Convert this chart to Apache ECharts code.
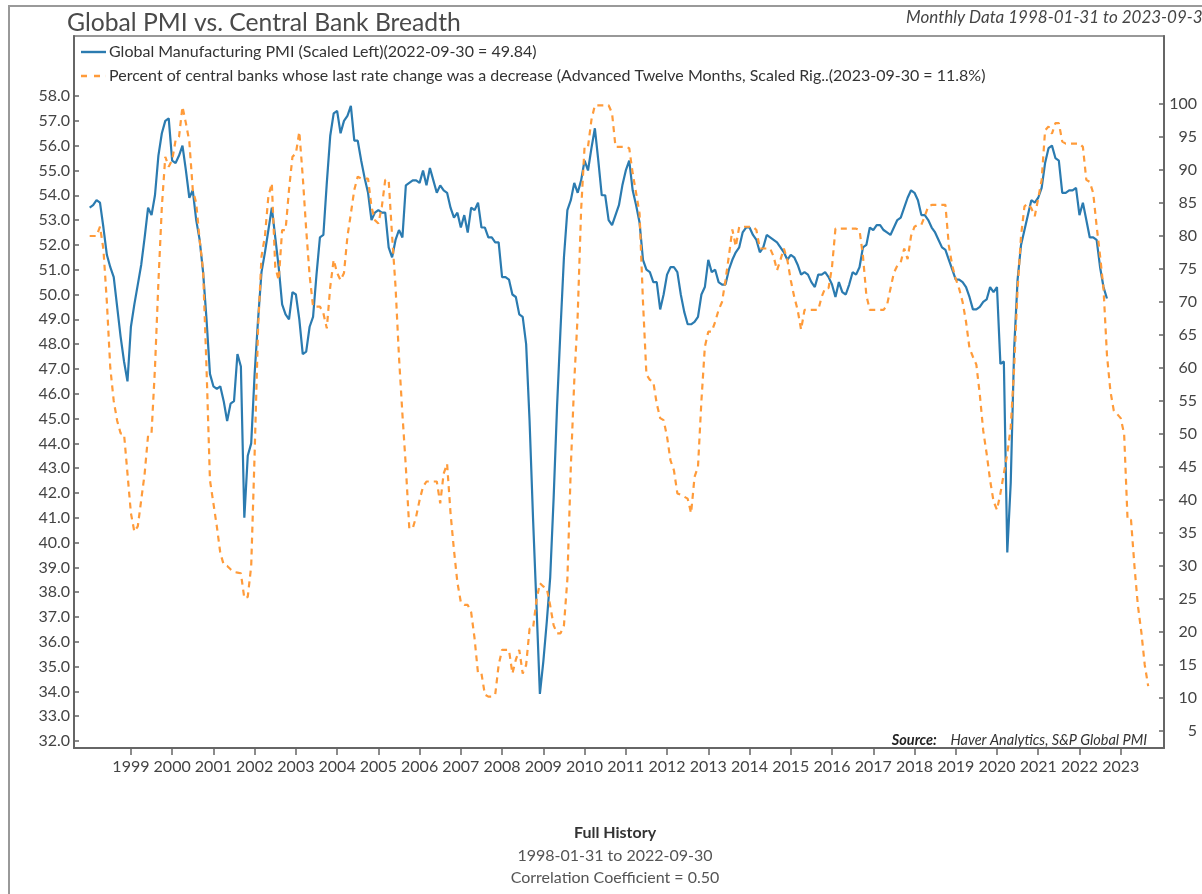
<!DOCTYPE html>
<html>
<head>
<meta charset="utf-8">
<title>Global PMI vs. Central Bank Breadth</title>
<script src="https://cdn.jsdelivr.net/npm/echarts@6/dist/echarts.min.js"></script>
<style>
html, body { margin: 0; padding: 0; background: #fff; }
#chart { width: 1202px; height: 894px; }
</style>
</head>
<body>
<div id="chart"></div>
<script>
/* monthly data, first month = 1998-01 */
var startYear = 1998;

/* Global Manufacturing PMI, 1998-01 .. 2022-09 (left axis) */
var pmi = [
	53.5, 53.6, 53.8, 53.7, 52.7, 51.6, 51.1, 50.7, 49.5, 48.3, 47.3, 46.5,
	48.7, 49.6, 50.4, 51.2, 52.3, 53.5, 53.2, 54.0, 55.6, 56.5, 57.0, 57.1,
	55.4, 55.3, 55.6, 56.0, 55.0, 53.9, 54.2, 53.0, 52.2, 50.9, 49.0, 46.8,
	46.3, 46.2, 46.3, 45.7, 44.9, 45.6, 45.7, 47.6, 47.1, 41.0, 43.5, 44.0,
	46.8, 49.0, 50.9, 51.7, 52.6, 53.5, 52.3, 51.1, 49.6, 49.2, 49.0, 50.1,
	50.0, 49.0, 47.6, 47.7, 48.7, 49.1, 50.8, 52.3, 52.4, 54.5, 56.4, 57.3,
	57.4, 56.5, 57.0, 57.2, 57.6, 56.2, 56.2, 55.4, 54.7, 54.1, 53.0, 53.3,
	53.4, 53.3, 53.3, 51.9, 51.5, 52.2, 52.6, 52.3, 54.4, 54.5, 54.6, 54.6,
	54.5, 55.0, 54.4, 55.1, 54.6, 54.1, 54.4, 54.2, 54.1, 53.5, 53.1, 53.3,
	52.7, 53.2, 52.5, 53.5, 53.4, 53.7, 52.7, 52.7, 52.3, 52.3, 52.1, 52.1,
	50.7, 50.7, 50.6, 50.0, 49.9, 49.2, 49.1, 48.0, 44.9, 41.0, 37.5, 33.9,
	35.2, 36.8, 38.6, 41.8, 45.5, 48.6, 51.5, 53.4, 53.8, 54.5, 54.1, 54.6,
	55.4, 55.0, 55.9, 56.7, 55.4, 54.0, 54.0, 53.0, 52.8, 53.2, 53.6, 54.4,
	55.0, 55.4, 54.2, 53.6, 52.9, 51.4, 51.0, 50.9, 50.5, 50.5, 49.4, 50.0,
	50.8, 51.1, 51.1, 50.9, 50.0, 49.3, 48.8, 48.8, 48.9, 49.1, 50.0, 50.3,
	51.4, 50.9, 51.0, 50.5, 50.4, 50.4, 51.0, 51.4, 51.7, 51.9, 52.5, 52.7,
	52.7, 52.4, 52.2, 51.7, 51.9, 52.4, 52.3, 52.2, 52.1, 51.9, 51.7, 51.4,
	51.6, 51.5, 51.2, 50.8, 50.9, 50.8, 50.5, 50.3, 50.8, 50.8, 50.9, 50.7,
	50.4, 49.9, 50.5, 50.1, 50.0, 50.4, 50.9, 50.8, 51.1, 51.9, 52.0, 52.7,
	52.6, 52.8, 52.8, 52.6, 52.5, 52.4, 52.7, 53.0, 53.1, 53.5, 53.9, 54.2,
	54.1, 53.8, 53.2, 53.2, 53.0, 52.7, 52.5, 52.2, 51.9, 51.8, 51.4, 51.0,
	50.6, 50.6, 50.5, 50.3, 49.9, 49.4, 49.4, 49.5, 49.7, 49.8, 50.3, 50.1,
	50.3, 47.2, 47.3, 39.6, 42.4, 47.8, 50.6, 52.0, 52.6, 53.2, 53.8, 53.7,
	53.9, 54.3, 55.3, 55.9, 56.0, 55.5, 55.4, 54.1, 54.1, 54.2, 54.2, 54.3,
	53.2, 53.7, 53.0, 52.3, 52.3, 52.2, 51.1, 50.3, 49.84
];

/* % of central banks whose last change was a cut, advanced 12 months, 1998-01 .. 2023-09 (right axis) */
var cbCuts = [
	80.0, 80.0, 80.0, 81.4, 78.0, 70.0, 60.0, 55.0, 52.0, 50.1, 50.0, 44.0,
	38.0, 35.2, 36.0, 40.0, 44.0, 49.8, 50.1, 60.0, 73.0, 84.4, 92.0, 90.5,
	91.5, 94.5, 95.0, 99.6, 97.1, 94.3, 87.0, 85.0, 79.4, 74.8, 60.0, 43.0,
	39.5, 36.0, 32.0, 30.2, 30.0, 29.5, 29.1, 29.0, 28.9, 25.1, 25.3, 30.0,
	47.0, 66.0, 76.9, 80.0, 86.0, 88.0, 75.3, 73.3, 80.9, 80.9, 87.0, 92.0,
	92.5, 95.8, 89.0, 81.0, 74.0, 69.3, 69.3, 69.3, 68.3, 66.0, 72.3, 76.4,
	74.4, 73.3, 74.4, 79.9, 83.4, 87.0, 89.0, 88.7, 88.7, 88.7, 84.4, 82.4,
	81.9, 84.4, 88.5, 88.5, 80.0, 72.3, 61.7, 53.0, 45.0, 35.7, 35.7, 37.5,
	40.0, 42.0, 42.8, 42.8, 42.8, 42.8, 39.5, 44.0, 45.5, 38.0, 32.4, 27.5,
	24.5, 24.1, 24.1, 23.0, 19.0, 13.7, 13.7, 10.5, 10.2, 10.2, 10.5, 15.0,
	17.3, 17.3, 17.3, 13.7, 15.8, 17.3, 13.7, 15.0, 20.5, 20.5, 24.8, 27.4,
	26.9, 26.6, 24.0, 21.0, 19.8, 19.8, 21.0, 28.0, 45.0, 58.0, 68.0, 84.0,
	93.5, 93.5, 97.6, 99.8, 99.8, 99.8, 99.8, 99.8, 98.6, 93.5, 93.5, 93.5,
	93.5, 93.3, 89.5, 86.5, 83.4, 70.0, 59.0, 58.2, 57.9, 54.6, 52.4, 52.1,
	49.6, 46.0, 44.5, 41.0, 40.8, 40.5, 40.2, 38.0, 43.5, 45.0, 55.0, 63.2,
	65.5, 65.5, 67.0, 68.8, 70.0, 73.3, 77.0, 81.0, 78.4, 81.4, 81.4, 81.4,
	81.4, 81.4, 80.9, 78.1, 78.1, 78.1, 78.1, 76.9, 74.8, 76.4, 78.1, 76.4,
	73.3, 70.8, 68.8, 65.8, 68.8, 68.8, 68.8, 68.8, 68.8, 70.8, 72.1, 72.1,
	75.3, 81.1, 81.1, 81.1, 81.1, 81.1, 81.1, 81.1, 80.9, 77.0, 71.0, 68.8,
	68.8, 68.8, 68.8, 68.8, 69.5, 72.0, 74.4, 75.5, 76.0, 78.1, 76.5, 80.0,
	81.4, 81.7, 81.7, 83.0, 84.5, 84.7, 84.7, 84.7, 84.7, 84.7, 78.5, 75.5,
	73.5, 72.0, 70.0, 67.0, 63.0, 61.7, 60.5, 56.0, 50.5, 47.0, 43.0, 39.8,
	38.5, 41.0, 44.0, 47.0, 51.0, 60.0, 72.0, 80.0, 84.5, 84.9, 84.2, 83.0,
	85.7, 88.5, 96.0, 96.6, 95.5, 97.1, 97.1, 94.3, 94.0, 94.0, 94.0, 94.0,
	94.0, 93.5, 88.5, 88.2, 86.5, 81.5, 77.0, 72.0, 62.0, 56.5, 53.5, 53.0,
	52.4, 50.0, 37.0, 37.0, 30.0, 24.0, 20.0, 15.0, 11.8
];

var yearTicks = [1999, 2000, 2001, 2002, 2003, 2004, 2005, 2006, 2007, 2008, 2009, 2010,
	2011, 2012, 2013, 2014, 2015, 2016, 2017, 2018, 2019, 2020, 2021, 2022, 2023];
var leftTicks = [32, 33, 34, 35, 36, 37, 38, 39, 40, 41, 42, 43, 44, 45,
	46, 47, 48, 49, 50, 51, 52, 53, 54, 55, 56, 57, 58];
var rightTicks = [5, 10, 15, 20, 25, 30, 35, 40, 45, 50, 55, 60, 65, 70, 75, 80, 85, 90, 95, 100];

var pmiName = 'Global Manufacturing PMI (Scaled Left)(2022-09-30 = 49.84)';
var cbName = 'Percent of central banks whose last rate change was a decrease (Advanced Twelve Months, Scaled Rig..(2023-09-30 = 11.8%)';

// month index -> fractional year for the value x axis
function toPoints(arr) {
	return arr.map(function(v, i) {
		return [startYear + i / 12, v];
	});
}

var FONT = 'Lato, "Open Sans", sans-serif';
var axisColor = '#666';
var blue = '#2b7bb0';
var orange = '#ff9b3a';

var option = {
	animation: false,
	backgroundColor: '#fff',
	textStyle: { fontFamily: FONT },
	grid: {
		left: 74, right: 38, top: 36, bottom: 146,
		show: true, borderColor: '#777', borderWidth: 1.5
	},
	legend: {
		orient: 'vertical',
		left: 76, top: 39,
		itemWidth: 25, itemHeight: 2.4, itemGap: 8,
		symbolKeepAspect: false,
		data: [
			{ name: pmiName, icon: 'rect' },
			// two short dashes, tiny sliver keeps the icon box 25 wide
			{ name: cbName, icon: 'path://M0,0H6V1H0Z M13,0H19V1H13Z M24.9,0H25V1H24.9Z' }
		],
		textStyle: { fontFamily: FONT, fontSize: 16, color: '#333', lineHeight: 14, padding: [0, 0, 0, -2] }
	},
	xAxis: {
		type: 'value',
		min: 1997.62, max: 2024.05,
		splitLine: { show: false },
		axisLine: { show: true, onZero: false, lineStyle: { color: axisColor, width: 2 } },
		axisTick: { show: true, customValues: yearTicks, length: 7, lineStyle: { color: axisColor, width: 1.5 } },
		axisLabel: {
			customValues: yearTicks,
			formatter: function(v) { return String(Math.round(v)); },
			fontFamily: FONT, fontSize: 16, color: '#444', margin: 11
		}
	},
	yAxis: [{
		type: 'value', position: 'left',
		min: 31.72, max: 60.42,
		splitLine: { show: false },
		axisLine: { show: true, lineStyle: { color: axisColor, width: 2 } },
		axisTick: { show: true, inside: true, length: 5, customValues: leftTicks, lineStyle: { color: axisColor, width: 1.5 } },
		axisLabel: {
			customValues: leftTicks,
			formatter: function(v) { return v.toFixed(1); },
			fontFamily: FONT, fontSize: 16, color: '#444', margin: 4
		}
	}, {
		type: 'value', position: 'right',
		min: 2.42, max: 110.3,
		splitLine: { show: false },
		axisLine: { show: true, lineStyle: { color: axisColor, width: 2 } },
		axisTick: { show: true, inside: true, length: 5, customValues: rightTicks, lineStyle: { color: axisColor, width: 1.5 } },
		axisLabel: {
			customValues: rightTicks,
			align: 'right',
			fontFamily: FONT, fontSize: 16, color: '#444', margin: 33
		}
	}],
	series: [{
		name: pmiName,
		type: 'line',
		yAxisIndex: 0,
		symbol: 'none',
		data: toPoints(pmi),
		itemStyle: { color: blue },
		lineStyle: { color: blue, width: 2.2 }
	}, {
		name: cbName,
		type: 'line',
		yAxisIndex: 1,
		symbol: 'none',
		data: toPoints(cbCuts),
		itemStyle: { color: orange },
		lineStyle: { color: orange, width: 2.2, type: [6, 5] }
	}],
	graphic: [{
		type: 'polyline',
		shape: { points: [[9, 894], [9, 6], [1202, 6]] },
		style: { stroke: '#999', lineWidth: 2, fill: null }
	}, {
		type: 'text', left: 67, top: 11,
		style: { text: 'Global PMI vs. Central Bank Breadth', font: '24.7px ' + FONT, fill: '#4a4a4a' }
	}, {
		type: 'text', left: 906, top: 9,
		style: { text: 'Monthly Data 1998-01-31 to 2023-09-30', font: 'italic 17px ' + FONT, fill: '#444' }
	}, {
		type: 'text', x: 1147, y: 740,
		style: {
			text: '{b|Source:}    Haver Analytics, S&P Global PMI',
			font: 'italic 14.5px ' + FONT, fill: '#333',
			align: 'right', verticalAlign: 'middle',
			rich: { b: { fontWeight: 'bold', fontStyle: 'italic', fontSize: 14.5, fontFamily: FONT, fill: '#222' } }
		}
	}, {
		type: 'text', x: 615, y: 833,
		style: { text: 'Full History', font: 'bold 16px ' + FONT, fill: '#333', align: 'center', verticalAlign: 'middle' }
	}, {
		type: 'text', x: 615, y: 856,
		style: { text: '1998-01-31 to 2022-09-30', font: '16px ' + FONT, fill: '#555', align: 'center', verticalAlign: 'middle' }
	}, {
		type: 'text', x: 615, y: 878,
		style: { text: 'Correlation Coefficient = 0.50', font: '16px ' + FONT, fill: '#555', align: 'center', verticalAlign: 'middle' }
	}]
};

var myChart = echarts.init(document.getElementById('chart'), null, { renderer: 'canvas' });
myChart.setOption(option, true);
</script>
</body>
</html>
